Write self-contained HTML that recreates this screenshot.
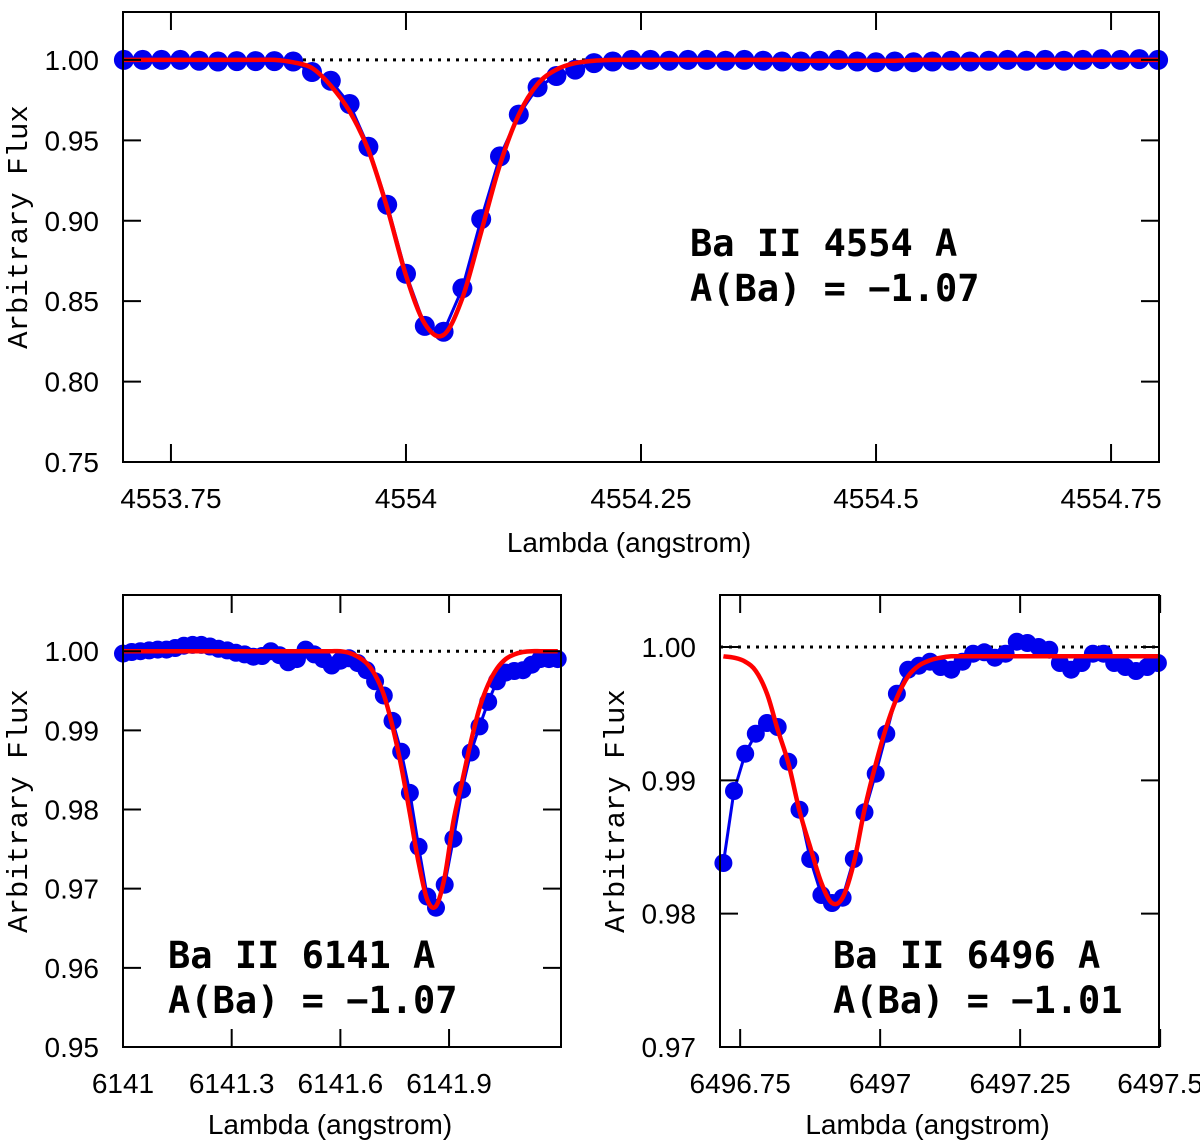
<!DOCTYPE html>
<html><head><meta charset="utf-8"><style>
html,body{margin:0;padding:0;background:#fff;}
svg{display:block;}
.tk{font-family:"Liberation Sans",sans-serif;font-size:28px;fill:#000;}
.ax{font-family:"Liberation Sans",sans-serif;font-size:28px;fill:#000;}
.yl{font-family:"Liberation Mono",monospace;font-size:29px;fill:#000;}
.lab{font-family:"DejaVu Sans Mono","Liberation Mono",monospace;font-weight:bold;font-size:37px;fill:#000;}
</style></head><body>
<svg id="chart" width="1200" height="1146" viewBox="0 0 1200 1146" xmlns="http://www.w3.org/2000/svg"></svg>
<script>
// ---- Panel 1: Ba II 4554 ----
const p1Wave = [4553.70,4553.72,4553.74,4553.76,4553.78,4553.80,4553.82,4553.84,4553.86,4553.88,4553.90,4553.92,4553.94,4553.96,4553.98,4554.00,4554.02,4554.04,4554.06,4554.08,4554.10,4554.12,4554.14,4554.16,4554.18,4554.20,4554.22,4554.24,4554.26,4554.28,4554.30,4554.32,4554.34,4554.36,4554.38,4554.40,4554.42,4554.44,4554.46,4554.48,4554.50,4554.52,4554.54,4554.56,4554.58,4554.60,4554.62,4554.64,4554.66,4554.68,4554.70,4554.72,4554.74,4554.76,4554.78,4554.80];
const p1Obs = [1.000,1.000,1.000,1.000,0.9995,0.999,0.9993,0.9993,0.9993,0.999,0.9925,0.987,0.9726,0.946,0.910,0.867,0.8346,0.831,0.858,0.901,0.940,0.966,0.983,0.990,0.994,0.998,0.999,1.0,1.0,0.9995,1.0,1.0,0.9995,1.0,0.9995,0.999,0.999,0.9995,1.0,0.999,0.9985,0.999,0.9985,0.999,0.9995,0.999,0.9995,1.0,0.9995,1.0,0.9995,1.0,1.0005,1.0,1.0005,1.0];
const p1Model = [1.0,1.0,1.0,1.0,1.0,1.0,1.0,1.0,1.0,0.9985,0.995,0.984,0.968,0.944,0.908,0.866,0.836,0.829,0.852,0.893,0.935,0.966,0.985,0.994,0.998,0.9995,1.0,1.0,1.0,1.0,1.0,1.0,1.0,1.0,1.0,1.0,0.9995,0.9995,0.9995,0.9995,0.9995,0.9995,1.0,1.0,1.0,1.0,1.0,1.0,1.0,1.0,1.0,1.0,1.0,1.0,1.0,1.0];
const p1XTicks = [4553.75,4554,4554.25,4554.5,4554.75];
const p1XTickLabels = ["4553.75","4554","4554.25","4554.5","4554.75"];
const p1YTicks = [0.75,0.80,0.85,0.90,0.95,1.00];
const p1YTickLabels = ["0.75","0.80","0.85","0.90","0.95","1.00"];

// ---- Panel 2: Ba II 6141 ----
const p2Wave = [6141.000,6141.024,6141.048,6141.072,6141.096,6141.120,6141.144,6141.168,6141.192,6141.216,6141.240,6141.264,6141.288,6141.312,6141.336,6141.360,6141.384,6141.408,6141.432,6141.456,6141.480,6141.504,6141.528,6141.552,6141.576,6141.600,6141.624,6141.648,6141.672,6141.696,6141.720,6141.744,6141.768,6141.792,6141.816,6141.840,6141.864,6141.888,6141.912,6141.936,6141.960,6141.984,6142.008,6142.032,6142.056,6142.080,6142.104,6142.128,6142.152,6142.176,6142.200];
const p2Obs = [0.9997,0.9999,1.0000,1.0001,1.0002,1.0002,1.0004,1.0007,1.0008,1.0008,1.0006,1.0003,1.0001,0.9998,0.9996,0.9993,0.9994,1.0000,0.9995,0.9986,0.9990,1.0002,0.9996,0.9990,0.9982,0.9988,0.9991,0.9985,0.9976,0.9962,0.9944,0.9912,0.9873,0.9821,0.9753,0.9690,0.9676,0.9705,0.9763,0.9825,0.9872,0.9905,0.9936,0.9962,0.9973,0.9975,0.9976,0.9983,0.9990,0.9990,0.9990];
const p2Model = [1,1,1,1,1,1,1,1,1,1,1,1,1,1,1,1,1,1,1,1,1,1,1,1,1,1,0.9998,0.9993,0.9985,0.997,0.9945,0.9905,0.9855,0.9795,0.9733,0.9686,0.9678,0.9715,0.9785,0.9835,0.9885,0.9928,0.9958,0.9978,0.9990,0.9996,0.9999,1,1,1,1];
const p2XTicks = [6141,6141.3,6141.6,6141.9];
const p2XTickLabels = ["6141","6141.3","6141.6","6141.9"];
const p2YTicks = [0.95,0.96,0.97,0.98,0.99,1.00];
const p2YTickLabels = ["0.95","0.96","0.97","0.98","0.99","1.00"];

// ---- Panel 3: Ba II 6496 ----
const p3Wave = [6496.720,6496.739,6496.759,6496.778,6496.798,6496.817,6496.836,6496.856,6496.875,6496.895,6496.914,6496.933,6496.953,6496.972,6496.992,6497.011,6497.030,6497.050,6497.069,6497.089,6497.108,6497.127,6497.147,6497.166,6497.186,6497.205,6497.224,6497.244,6497.263,6497.283,6497.302,6497.321,6497.341,6497.360,6497.380,6497.399,6497.418,6497.438,6497.457,6497.477,6497.496];
const p3Obs = [0.9838,0.9892,0.9920,0.9935,0.9943,0.9940,0.9914,0.9878,0.9841,0.9814,0.9808,0.9812,0.9841,0.9876,0.9905,0.9935,0.9965,0.9983,0.9986,0.9989,0.9985,0.9983,0.9989,0.9995,0.9996,0.9992,0.9995,1.0004,1.0003,1.0000,0.9998,0.9988,0.9983,0.9988,0.9995,0.9995,0.9988,0.9985,0.9982,0.9985,0.9988];
const p3Model = [0.9993,0.9992,0.9989,0.9982,0.9965,0.9938,0.9913,0.9877,0.9850,0.9823,0.9808,0.9812,0.9838,0.9878,0.9912,0.9940,0.9962,0.9978,0.9986,0.9990,0.9992,0.9993,0.9993,0.9993,0.9993,0.9993,0.9993,0.9993,0.9993,0.9993,0.9993,0.9993,0.9993,0.9993,0.9993,0.9993,0.9993,0.9993,0.9993,0.9993,0.9993];
const p3XTicks = [6496.75,6497,6497.25,6497.5];
const p3XTickLabels = ["6496.75","6497","6497.25","6497.5"];
const p3YTicks = [0.97,0.98,0.99,1.00];
const p3YTickLabels = ["0.97","0.98","0.99","1.00"];

const NS = "http://www.w3.org/2000/svg";
const svg = document.getElementById('chart');
function mk(tag, attrs, parent){
  const e = document.createElementNS(NS, tag);
  for (const k in attrs) e.setAttribute(k, attrs[k]);
  (parent||svg).appendChild(e);
  return e;
}
function smoothPath(pts){
  let d = "M" + pts[0][0].toFixed(1) + "," + pts[0][1].toFixed(1);
  for (let i=0;i<pts.length-1;i++){
    const p0=pts[Math.max(0,i-1)], p1=pts[i], p2=pts[i+1], p3=pts[Math.min(pts.length-1,i+2)];
    const c1x=p1[0]+(p2[0]-p0[0])/6, c1y=p1[1]+(p2[1]-p0[1])/6;
    const c2x=p2[0]-(p3[0]-p1[0])/6, c2y=p2[1]-(p3[1]-p1[1])/6;
    d += " C"+c1x.toFixed(1)+","+c1y.toFixed(1)+" "+c2x.toFixed(1)+","+c2y.toFixed(1)+" "+p2[0].toFixed(1)+","+p2[1].toFixed(1);
  }
  return d;
}
function panel(cfg){
  const g = mk('g', {});
  
  
  const X = v => cfg.x0 + (v - cfg.xmin)/(cfg.xmax - cfg.xmin)*(cfg.x1 - cfg.x0);
  const Y = v => cfg.y1 - (v - cfg.ymin)/(cfg.ymax - cfg.ymin)*(cfg.y1 - cfg.y0);
  const cont = mk('line', {x1:cfg.x0, x2:cfg.x1, y1:Y(1), y2:Y(1), stroke:'#000', 'stroke-width':3, 'stroke-dasharray':'3,6'}, g);
  
  
  const obsPts = cfg.wave.map((w,i)=>[X(w), Y(cfg.obs[i])]);
  const ol = mk('polyline', {points: obsPts.map(p=>p[0].toFixed(1)+","+p[1].toFixed(1)).join(" "), fill:'none', stroke:'#0000ee', 'stroke-width':3}, g);
  
  
  const dots = mk('g', {fill:'#0000ee'}, g);
  
  
  obsPts.forEach(p=>{
    const c = mk('circle', {cx:p[0].toFixed(1), cy:p[1].toFixed(1), r:cfg.r}, dots);
    
    
  });
  const modPts = cfg.wave.map((w,i)=>[X(w), Y(cfg.model[i])]);
  const ml = mk('path', {d: smoothPath(modPts), fill:'none', stroke:'#ff0000', 'stroke-width':4.5}, g);
  
  
  const fr = mk('rect', {x:cfg.x0, y:cfg.y0, width:cfg.x1-cfg.x0, height:cfg.y1-cfg.y0, fill:'none', stroke:'#000', 'stroke-width':2}, g);
  
  
  cfg.yt.forEach((v,i)=>{
    const y = Y(v);
    mk('line', {x1:cfg.x0, x2:cfg.x0+18, y1:y, y2:y, stroke:'#000', 'stroke-width':2}, g);
    mk('line', {x1:cfg.x1-18, x2:cfg.x1, y1:y, y2:y, stroke:'#000', 'stroke-width':2}, g);
    const t = mk('text', {x:cfg.x0-24, y:y+10, 'text-anchor':'end', class:'tk'}, g);
    t.textContent = cfg.ytl[i];
    
    
  });
  cfg.xt.forEach((v,i)=>{
    const x = X(v);
    mk('line', {x1:x, x2:x, y1:cfg.y1, y2:cfg.y1-18, stroke:'#000', 'stroke-width':2}, g);
    mk('line', {x1:x, x2:x, y1:cfg.y0, y2:cfg.y0+18, stroke:'#000', 'stroke-width':2}, g);
    const t = mk('text', {x:x, y:cfg.y1+46, 'text-anchor':'middle', class:'tk'}, g);
    t.textContent = cfg.xtl[i];
    
    
  });
  const xl = mk('text', {x:(cfg.x0+cfg.x1)/2+cfg.xlOff, y:cfg.y1+cfg.xlY, 'text-anchor':'middle', class:'ax'}, g);
  xl.textContent = 'Lambda (angstrom)';
  
  
  const yl = mk('text', {x:0, y:0, 'text-anchor':'middle', class:'yl', transform:'translate('+(cfg.x0-96)+','+((cfg.y0+cfg.y1)/2-10)+') rotate(-90)'}, g);
  yl.textContent = 'Arbitrary Flux';
  
  
  cfg.labels.forEach((s,i)=>{
    const t = mk('text', {x:cfg.lx, y:cfg.ly + i*45, class:'lab'}, g);
    t.textContent = s;
    
    
  });
}
panel({name:'panel-ba-4554', x0:123, x1:1159, y0:12, y1:462, xmin:4553.699, xmax:4554.801, ymin:0.75, ymax:1.0298,
  wave:p1Wave, obs:p1Obs, model:p1Model, xt:p1XTicks, xtl:p1XTickLabels, yt:p1YTicks, ytl:p1YTickLabels, r:10, xlOff:-12, xlY:90,
  labels:['Ba II 4554 A','A(Ba) = \u22121.07'], lx:690, ly:256});
panel({name:'panel-ba-6141', x0:123, x1:561, y0:595, y1:1047, xmin:6141.0, xmax:6142.209, ymin:0.95, ymax:1.0071,
  wave:p2Wave, obs:p2Obs, model:p2Model, xt:p2XTicks, xtl:p2XTickLabels, yt:p2YTicks, ytl:p2YTickLabels, r:9, xlOff:-12, xlY:87,
  labels:['Ba II 6141 A','A(Ba) = \u22121.07'], lx:168, ly:968});
panel({name:'panel-ba-6496', x0:720, x1:1159, y0:595, y1:1047, xmin:6496.714, xmax:6497.498, ymin:0.97, ymax:1.0039,
  wave:p3Wave, obs:p3Obs, model:p3Model, xt:p3XTicks, xtl:p3XTickLabels, yt:p3YTicks, ytl:p3YTickLabels, r:9, xlOff:-12, xlY:87,
  labels:['Ba II 6496 A','A(Ba) = \u22121.01'], lx:833, ly:968});
</script>
</body></html>
